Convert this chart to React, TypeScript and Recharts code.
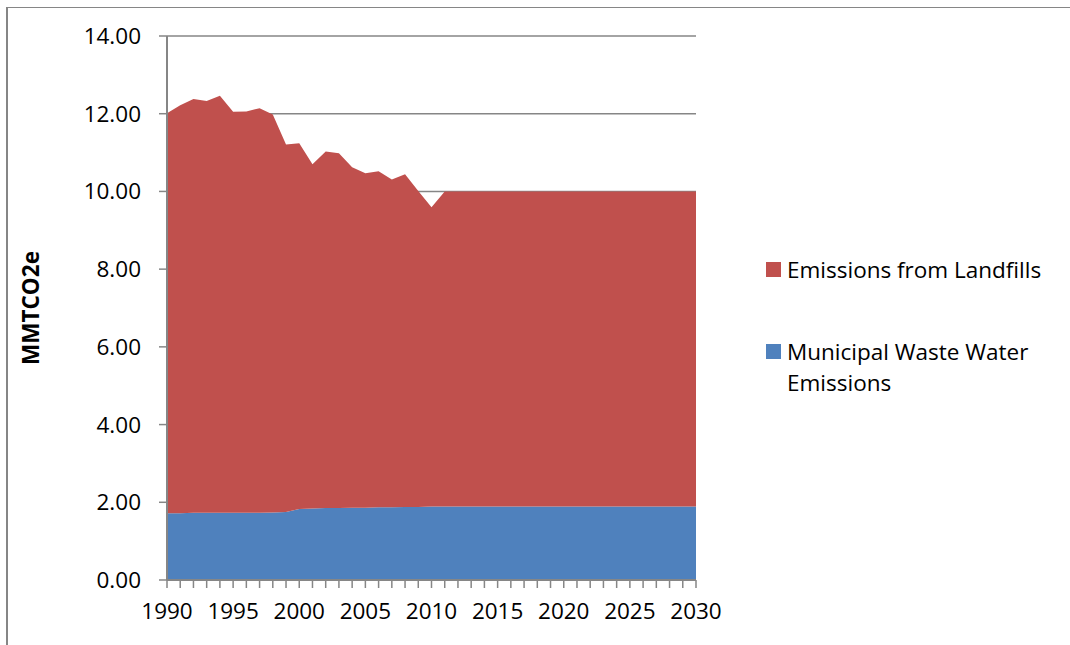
import React from "react"
import { AreaChart, Area, XAxis, YAxis, CartesianGrid } from "recharts"

// annual emissions, MMTCO2e
const years = Array.from({ length: 41 }, (_, i) => 1990 + i)

const municipalWasteWater = [
  1.72, 1.72, 1.73, 1.73, 1.73, 1.73, 1.73, 1.73, 1.74, 1.75,
  1.83, 1.84, 1.85, 1.85, 1.86, 1.86, 1.87, 1.87, 1.88, 1.88,
  1.89, 1.89, 1.89, 1.89, 1.89, 1.89, 1.89, 1.89, 1.89, 1.89,
  1.89, 1.89, 1.89, 1.89, 1.89, 1.89, 1.89, 1.89, 1.89, 1.89,
  1.89,
]

const landfills = [
  10.29, 10.5, 10.65, 10.6, 10.73, 10.32, 10.33, 10.41, 10.24, 9.46,
  9.41, 8.86, 9.18, 9.13, 8.76, 8.61, 8.65, 8.44, 8.56, 8.13,
  7.7, 8.11, 8.11, 8.11, 8.11, 8.11, 8.11, 8.11, 8.11, 8.11,
  8.11, 8.11, 8.11, 8.11, 8.11, 8.11, 8.11, 8.11, 8.11, 8.11,
  8.11,
]

const yTicks = [0, 2, 4, 6, 8, 10, 12, 14]

const series = [
  { key: "landfills", name: "Emissions from Landfills", color: "#C0504D" },
  { key: "municipal", name: "Municipal Waste Water Emissions", color: "#4F81BD" },
]

const data = years.map((year, i) => ({
  year,
  municipal: municipalWasteWater[i],
  landfills: landfills[i],
}))

const FONT = "'Open Sans', sans-serif"
const AXIS = "#868686"

function YearTick(props: any) {
  const { x, y, payload } = props
  if (payload.value % 5 !== 0) return null
  return (
    <text x={x} y={y} dy={29} textAnchor="middle" fontFamily={FONT} fontSize={22.5} fill="#000">
      {payload.value}
    </text>
  )
}

export default function App() {
  return (
    <div style={{ position: "absolute", left: 0, top: 0, width: 1070, height: 645, overflow: "hidden", background: "#fff" }}>
      <div
        style={{
          position: "absolute",
          left: 6,
          top: 7,
          right: -4,
          bottom: -4,
          borderLeft: `2px solid ${AXIS}`,
          borderTop: `1px solid ${AXIS}`,
        }}
      />
      <div style={{ position: "absolute", left: 0, top: 0 }}>
        <AreaChart width={1070} height={645} data={data} margin={{ top: 36, right: 374, bottom: 0, left: 0 }}>
          <CartesianGrid vertical={false} stroke={AXIS} strokeWidth={1.5} />
          <XAxis
            dataKey="year"
            type="number"
            domain={[1990, 2030]}
            ticks={years}
            interval={0}
            height={65}
            tickSize={8}
            axisLine={{ stroke: AXIS, strokeWidth: 2 }}
            tickLine={{ stroke: AXIS, strokeWidth: 1.5 }}
            tick={<YearTick />}
          />
          <YAxis
            type="number"
            domain={[0, 14]}
            ticks={yTicks}
            width={167}
            tickSize={8}
            tickMargin={18}
            tickFormatter={(v: number) => v.toFixed(2)}
            axisLine={{ stroke: AXIS, strokeWidth: 2 }}
            tickLine={{ stroke: AXIS, strokeWidth: 1.5 }}
            tick={{ fill: "#000", fontSize: 22.5, fontFamily: FONT }}
            label={{
              value: "MMTCO2e",
              angle: -90,
              position: "insideLeft",
              offset: 31,
              style: { fill: "#000", fontSize: 22.5, fontWeight: 700, fontFamily: FONT, textAnchor: "middle" },
            }}
          />
          <Area
            type="linear"
            dataKey="municipal"
            name={series[1].name}
            stackId="1"
            stroke="none"
            fill={series[1].color}
            fillOpacity={1}
            isAnimationActive={false}
          />
          <Area
            type="linear"
            dataKey="landfills"
            name={series[0].name}
            stackId="1"
            stroke="none"
            fill={series[0].color}
            fillOpacity={1}
            isAnimationActive={false}
          />
        </AreaChart>
      </div>
      <div style={{ position: "absolute", left: 766, top: 254, fontFamily: FONT, fontSize: 22.5, color: "#000", lineHeight: "31px" }}>
        {series.map((s, i) => (
          <div key={s.key} style={{ display: "flex", alignItems: "flex-start", marginBottom: i === 0 ? 51 : 0 }}>
            <div style={{ width: 15, height: 15, background: s.color, marginTop: 8, marginRight: 6, flexShrink: 0 }} />
            <div style={{ width: 270 }}>{s.name}</div>
          </div>
        ))}
      </div>
    </div>
  )
}
